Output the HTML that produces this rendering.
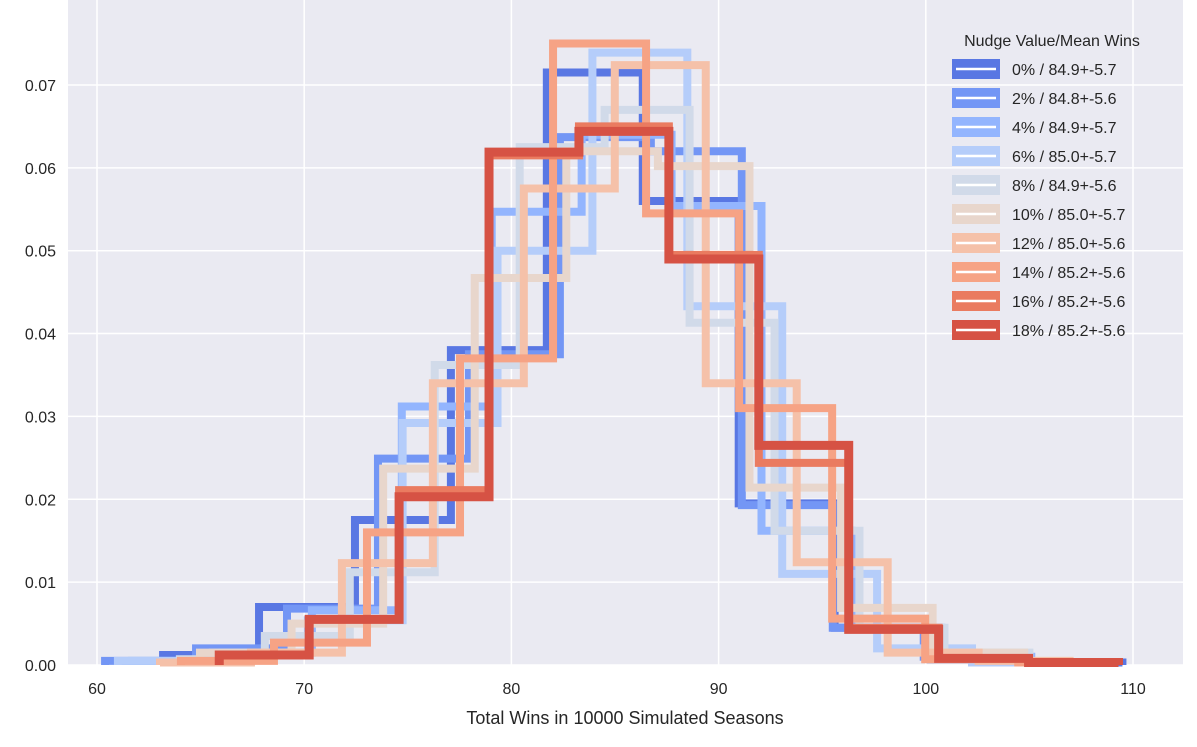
<!DOCTYPE html>
<html><head><meta charset="utf-8"><style>
body{margin:0;background:#fff;font-family:"Liberation Sans",sans-serif;}
svg text{font-family:"Liberation Sans",sans-serif;fill:#262626;}
</style></head><body>
<svg id="chart" width="1197" height="742" xmlns="http://www.w3.org/2000/svg">
<rect x="68" y="0" width="1115" height="665" fill="#eaeaf2"/>
<g id="grid"></g><g id="series"></g><g id="ticks"></g>
<text x="625" y="724" font-size="18" text-anchor="middle">Total Wins in 10000 Simulated Seasons</text>
<g id="legend"></g>
</svg>
<script>
const labels=["0% / 84.9+-5.7","2% / 84.8+-5.6","4% / 84.9+-5.7","6% / 85.0+-5.7","8% / 84.9+-5.6","10% / 85.0+-5.7","12% / 85.0+-5.6","14% / 85.2+-5.6","16% / 85.2+-5.6","18% / 85.2+-5.6"];
const colors=["#5977e3","#7396f5","#93b5fe","#b5cdfa","#d1dae9","#e8d6cc","#f5c1a9","#f6a385","#ea7b60","#d65244"];
const binStarts=[63.19,60.39,61.69,61.01,64.0,64.97,63.04,64.05,65.9,65.9];
const binWidths=[4.63,4.39,4.34,4.58,4.10,4.42,4.39,4.49,4.34,4.34];
const h0=[0.0012,0.007,0.0175,0.038,0.0715,0.056,0.0195,0.0045,0.0007,0.0003];
const h2=[0.0005,0.002,0.0068,0.0249,0.0375,0.0637,0.062,0.0193,0.0045,0.001,0.0003];
const h4=[0.0005,0.0015,0.0066,0.0312,0.0547,0.064,0.0554,0.0162,0.0045,0.001];
const h6=[0.0005,0.0015,0.0054,0.0292,0.050,0.0739,0.0433,0.011,0.002,0.0003];
const h8=[0.0007,0.0035,0.0112,0.0362,0.0625,0.067,0.0413,0.0162,0.0045,0.0015,0.0003];
const h10=[0.0015,0.005,0.0237,0.0467,0.062,0.0602,0.0214,0.0069,0.0015,0.0003];
const h12=[0.0003,0.0015,0.0123,0.034,0.0575,0.0724,0.034,0.0124,0.0015,0.0005];
const h14=[0.0005,0.0027,0.016,0.037,0.075,0.0545,0.031,0.0056,0.0007,0.0003];
const h16=[0.0012,0.0055,0.0211,0.0615,0.065,0.0495,0.0244,0.0045,0.0008,0.0003];
const h18=[0.0012,0.0055,0.0203,0.0619,0.0644,0.049,0.0265,0.0043,0.0008,0.0003];
const heights=[h0,h2,h4,h6,h8,h10,h12,h14,h16,h18];
const xTicks=[60,70,80,90,100,110];
const yTicks=[0,0.01,0.02,0.03,0.04,0.05,0.06,0.07];
const NS="http://www.w3.org/2000/svg";
const X=v=>97+(v-60)*20.72;
const Y=v=>665-v*8286;
function mk(t,p,a){const e=document.createElementNS(NS,t);for(const k in a)e.setAttribute(k,a[k]);p.appendChild(e);return e;}
const grid=document.getElementById('grid'),ticks=document.getElementById('ticks');
xTicks.forEach(v=>{
 const l=mk('line',grid,{x1:X(v),x2:X(v),y1:0,y2:665,stroke:'#fff','stroke-width':1.5});
 
 
 const t=mk('text',ticks,{x:X(v),y:694,'font-size':16,'text-anchor':'middle'});t.textContent=v;
 
 
});
yTicks.forEach(v=>{
 const l=mk('line',grid,{x1:68,x2:1183,y1:Y(v),y2:Y(v),stroke:'#fff','stroke-width':1.5});
 
 
 const t=mk('text',ticks,{x:56,y:Y(v)+6,'font-size':16,'text-anchor':'end'});t.textContent=v.toFixed(2);
 
 
});
const sg=document.getElementById('series');
heights.forEach((hs,i)=>{
 let x0=binStarts[i],w=binWidths[i];
 let d='M'+X(x0)+','+Y(0);
 hs.forEach((h,j)=>{d+=' L'+X(x0+j*w)+','+Y(h)+' L'+X(x0+(j+1)*w)+','+Y(h);});
 d+=' L'+X(x0+hs.length*w)+','+Y(0);
 const p=mk('path',sg,{d:d,fill:'none',stroke:colors[i],'stroke-width':i==9?9:8,'stroke-linejoin':'miter'});
 
 
});
const lg=document.getElementById('legend');
const tt=mk('text',lg,{x:1052,y:46,'font-size':16,'text-anchor':'middle'});tt.textContent='Nudge Value/Mean Wins';


labels.forEach((lab,i)=>{
 const y=59+i*29;
 const r=mk('rect',lg,{x:952,y:y,width:48,height:20,fill:colors[i]});
 
 
 mk('line',lg,{x1:956,x2:996,y1:y+10,y2:y+10,stroke:'#fff','stroke-width':2.5});
 const t=mk('text',lg,{x:1012,y:y+16,'font-size':16});t.textContent=lab;
 
 
});
</script>
</body></html>
